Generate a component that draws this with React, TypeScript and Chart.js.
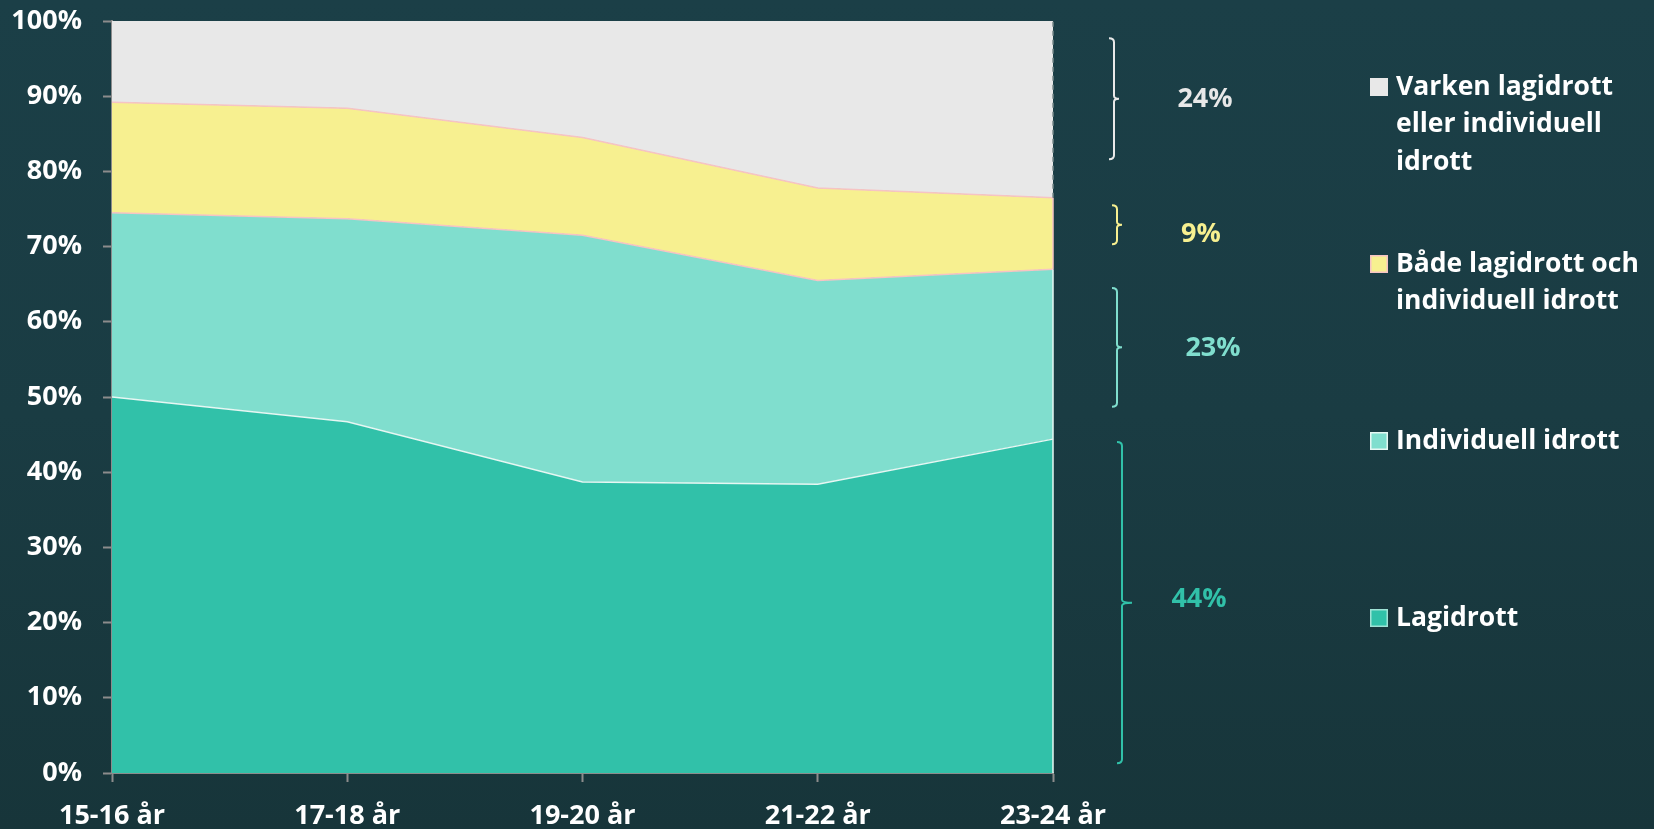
import React, { useEffect, useRef } from "react";
import { Chart, registerables } from "chart.js";

Chart.register(...registerables);

// ---- data ----
const categories = ["15-16 år", "17-18 år", "19-20 år", "21-22 år", "23-24 år"];
const lagidrott = [50.0, 46.7, 38.7, 38.4, 44.4];
const individuell = [24.5, 27.0, 32.8, 27.1, 22.6];
const bada = [14.7, 14.7, 13.0, 12.3, 9.5];
const varken = [10.8, 11.6, 15.5, 22.2, 23.5];
const seriesNames = [
  "Lagidrott",
  "Individuell idrott",
  "Både lagidrott och individuell idrott",
  "Varken lagidrott eller individuell idrott",
];
const legendLines = [
  ["Varken lagidrott", "eller individuell", "idrott"],
  ["Både lagidrott och", "individuell idrott"],
  ["Individuell idrott"],
  ["Lagidrott"],
];
const bracketLabels = ["24%", "9%", "23%", "44%"];
const bracketFrom = [81.6, 70.3, 48.7, 1.3];
const bracketTo = [97.7, 75.5, 64.5, 44.0];

// ---- styles ----
const COL_LAG = "#31c1a9";
const COL_IND = "#80dece";
const COL_BADA = "#f7f090";
const COL_VARK = "#e8e8e8";
const PINK = "#f6c4c4";
const AXIS = "#8c8c8c";
const FONT = '"Open Sans", "DejaVu Sans", sans-serif';

const bracketStyle = [
  { color: "#e8e8e8", dx: 61, nub: 5, labelDx: 152, labelDy: 0 },
  { color: COL_BADA, dx: 64, nub: 5, labelDx: 148, labelDy: 10 },
  { color: COL_IND, dx: 64, nub: 5, labelDx: 160, labelDy: 1 },
  { color: COL_LAG, dx: 69, nub: 10, labelDx: 146, labelDy: -3 },
];
const legendColors = [
  { fill: COL_VARK, stroke: COL_VARK },
  { fill: COL_BADA, stroke: PINK },
  { fill: COL_IND, stroke: "#e6f7f3" },
  { fill: COL_LAG, stroke: "#9fe3d6" },
];

function brace(ctx: CanvasRenderingContext2D, x: number, yTop: number, yBot: number, nub: number) {
  const yMid = (yTop + yBot) / 2;
  ctx.beginPath();
  ctx.moveTo(x - 5, yTop);
  ctx.quadraticCurveTo(x, yTop, x, yTop + 4);
  ctx.lineTo(x, yMid - 3);
  ctx.quadraticCurveTo(x, yMid, x + nub, yMid);
  ctx.moveTo(x + nub, yMid);
  ctx.quadraticCurveTo(x, yMid, x, yMid + 3);
  ctx.lineTo(x, yBot - 4);
  ctx.quadraticCurveTo(x, yBot, x - 5, yBot);
  ctx.stroke();
}

const decorPlugin = {
  id: "decor",
  afterDatasetsDraw(chart: any) {
    const { ctx, chartArea, scales } = chart;
    const y = scales.y;
    const n = categories.length - 1;
    const xr = chartArea.right;
    const c1 = lagidrott[n];
    const c2 = c1 + individuell[n];
    const c3 = c2 + bada[n];
    ctx.save();
    ctx.lineWidth = 1.5;
    ctx.strokeStyle = "#e6f7f3";
    ctx.beginPath();
    ctx.moveTo(xr, y.getPixelForValue(0));
    ctx.lineTo(xr, y.getPixelForValue(c2));
    ctx.stroke();
    ctx.strokeStyle = PINK;
    ctx.beginPath();
    ctx.moveTo(xr, y.getPixelForValue(c2));
    ctx.lineTo(xr, y.getPixelForValue(c3));
    ctx.stroke();
    ctx.strokeStyle = "#7a8a8c";
    ctx.setLineDash([5, 4]);
    ctx.beginPath();
    ctx.moveTo(xr, y.getPixelForValue(c3));
    ctx.lineTo(xr, y.getPixelForValue(100));
    ctx.stroke();
    ctx.restore();
  },
  afterDraw(chart: any) {
    const { ctx, chartArea, scales } = chart;
    const y = scales.y;
    const xr = chartArea.right;
    ctx.save();
    // brackets
    ctx.lineWidth = 2;
    ctx.font = "bold 27px " + FONT;
    ctx.textAlign = "center";
    ctx.textBaseline = "middle";
    bracketLabels.forEach((lab, i) => {
      const st = bracketStyle[i];
      const yTop = y.getPixelForValue(bracketTo[i]);
      const yBot = y.getPixelForValue(bracketFrom[i]);
      ctx.strokeStyle = st.color;
      brace(ctx, xr + st.dx, yTop, yBot, st.nub);
      ctx.fillStyle = st.color;
      ctx.fillText(lab, xr + st.labelDx, (yTop + yBot) / 2 + st.labelDy);
    });
    // legend
    const boxX = xr + 317;
    const textX = xr + 343;
    const y0 = 87;
    const step = 177;
    const lh = 37.5;
    ctx.font = "bold 26.5px " + FONT;
    ctx.textAlign = "left";
    legendLines.forEach((lines, i) => {
      const yc = y0 + i * step;
      const lc = legendColors[i];
      ctx.fillStyle = lc.fill;
      ctx.fillRect(boxX, yc - 9, 18, 18);
      ctx.strokeStyle = lc.stroke;
      ctx.lineWidth = 1.5;
      ctx.strokeRect(boxX + 0.75, yc - 8.25, 16.5, 16.5);
      ctx.fillStyle = "#ffffff";
      lines.forEach((t, j) => ctx.fillText(t, textX, yc + j * lh));
    });
    ctx.restore();
  },
};

export default function App() {
  const ref = useRef<HTMLCanvasElement | null>(null);
  useEffect(() => {
    document.body.style.margin = "0";
    const canvas = ref.current;
    if (!canvas) return;
    const mk = (label: string, data: number[], bg: string, border: string, fill: any, bw: number) => ({
      label,
      data,
      backgroundColor: bg,
      borderColor: border,
      borderWidth: bw,
      fill,
      pointRadius: 0,
      pointHoverRadius: 0,
      tension: 0,
    });
    const chart = new Chart(canvas, {
      type: "line",
      data: {
        labels: categories,
        datasets: [
          mk(seriesNames[0], lagidrott, COL_LAG, "#e6f7f3", "origin", 1.5),
          mk(seriesNames[1], individuell, COL_IND, PINK, "-1", 1.5),
          mk(seriesNames[2], bada, COL_BADA, PINK, "-1", 1.5),
          mk(seriesNames[3], varken, COL_VARK, "rgba(0,0,0,0)", "-1", 0),
        ],
      },
      options: {
        animation: false,
        responsive: false,
        devicePixelRatio: 1,
        layout: { padding: { left: 0, top: 21, right: 601, bottom: 0 } },
        plugins: { legend: { display: false }, tooltip: { enabled: false } },
        scales: {
          x: {
            type: "category",
            offset: false,
            grid: {
              display: true,
              drawOnChartArea: false,
              drawTicks: true,
              tickLength: 9,
              tickWidth: 2,
              color: AXIS,
            },
            border: { display: true, color: AXIS, width: 2 },
            ticks: {
              color: "#ffffff",
              font: { family: FONT, size: 27, weight: "bold" },
              padding: 18,
              maxRotation: 0,
              autoSkip: false,
            },
            afterFit: (s: any) => {
              s.height = 56;
              s.paddingLeft = 0;
              s.paddingRight = 0;
            },
          },
          y: {
            stacked: true,
            min: 0,
            max: 100,
            grid: {
              display: true,
              drawOnChartArea: false,
              drawTicks: true,
              tickLength: 9,
              tickWidth: 2,
              color: AXIS,
            },
            border: { display: true, color: AXIS, width: 2 },
            ticks: {
              stepSize: 10,
              color: "#ffffff",
              font: { family: FONT, size: 27, weight: "bold" },
              padding: 21,
              callback: (v: any) => v + "%",
            },
            afterFit: (s: any) => {
              s.width = 112;
              s.paddingTop = 0;
              s.paddingBottom = 0;
            },
          },
        },
      },
      plugins: [decorPlugin],
    } as any);
    return () => chart.destroy();
  }, []);
  return (
    <div
      style={{
        position: "absolute",
        left: 0,
        top: 0,
        width: 1654,
        height: 829,
        overflow: "hidden",
        background: "linear-gradient(180deg, #1b3f47 0%, #1a3c43 50%, #17353a 100%)",
      }}
    >
      <canvas ref={ref} width={1654} height={829} style={{ display: "block" }} />
    </div>
  );
}
